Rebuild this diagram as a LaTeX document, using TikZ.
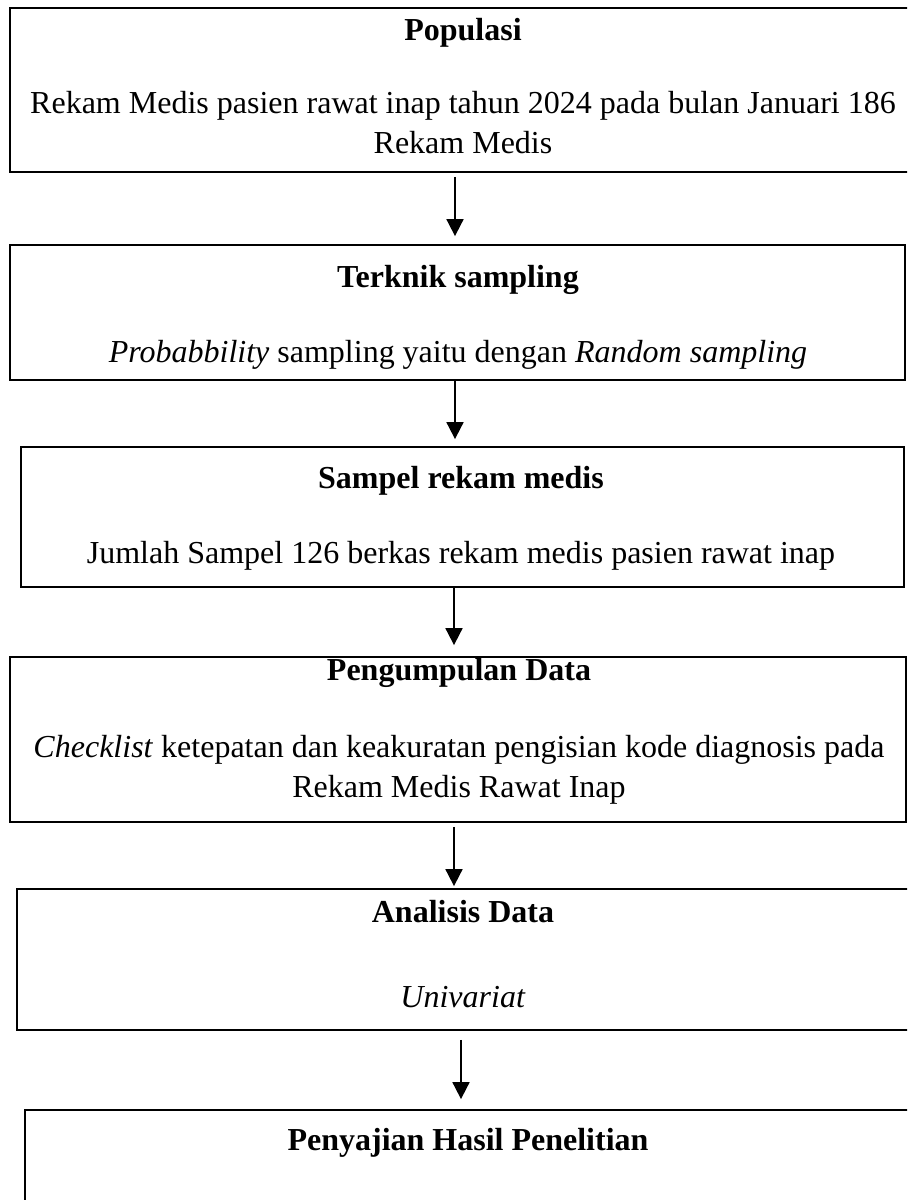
\documentclass[tikz,border=0pt]{standalone}
\usepackage{fontspec}
\setmainfont{Liberation Serif}
\usetikzlibrary{arrows.meta}

\begin{document}
\begin{tikzpicture}[x=0.5pt,y=-0.5pt,
    kotak/.style={draw,line width=0.9pt,rectangle,inner sep=0pt},
    judul/.style={anchor=base,inner sep=0pt,font=\fontsize{16}{20}\selectfont\bfseries},
    isi/.style={anchor=base,inner sep=0pt,align=center,font=\fontsize{16}{20}\selectfont},
    panah/.style={-{Triangle[length=8.5pt,width=8.5pt]},line width=0.9pt}]
  \useasboundingbox (0,0) rectangle (907,1200);
  \clip (0,0) rectangle (907,1200);

  % kotak alur
  \node[kotak,minimum width=453pt,minimum height=82pt] (b1) at (463,90) {};
  \node[kotak,minimum width=447.5pt,minimum height=67.5pt] (b2) at (457.5,312.5) {};
  \node[kotak,minimum width=441.5pt,minimum height=70pt] (b3) at (462.5,517) {};
  \node[kotak,minimum width=448pt,minimum height=82.5pt] (b4) at (458,739.5) {};
  \node[kotak,minimum width=446pt,minimum height=70.5pt] (b5) at (463,959.5) {};
  \node[kotak,minimum width=443pt,minimum height=75pt] (b6) at (468,1185) {};

  % isi kotak
  \node[judul] (t1) at (463,40) {Populasi};
  \node[isi] (i1) at (463,153) {Rekam Medis pasien rawat inap tahun 2024 pada bulan Januari 186\\Rekam Medis};
  \node[judul] (t2) at (458,287) {Terknik sampling};
  \node[isi] (i2) at (458,362) {\textit{Probabbility} sampling yaitu dengan \textit{Random sampling}};
  \node[judul] (t3) at (461,488) {Sampel rekam medis};
  \node[isi] (i3) at (461,563) {Jumlah Sampel 126 berkas rekam medis pasien rawat inap};
  \node[judul] (t4) at (459,680) {Pengumpulan Data};
  \node[isi] (i4) at (459,797) {\textit{Checklist} ketepatan dan keakuratan pengisian kode diagnosis pada\\Rekam Medis Rawat Inap};
  \node[judul] (t5) at (463,922) {Analisis Data};
  \node[isi] (i5) at (463,1007) {\textit{Univariat}};
  \node[judul] (t6) at (468,1150) {Penyajian Hasil Penelitian};

  % panah
  \draw[panah,shorten <=2pt,shorten >=4pt] ([xshift=-4pt]b1.south) -- ([xshift=-4pt]b1.south |- b2.north);
  \draw[panah,shorten >=3.5pt] ([xshift=-1.25pt]b2.south) -- ([xshift=-1.25pt]b2.south |- b3.north);
  \draw[panah,shorten >=5.5pt] ([xshift=-4.25pt]b3.south) -- ([xshift=-4.25pt]b3.south |- b4.north);
  \draw[panah,shorten <=2pt,shorten >=1pt] ([xshift=-2pt]b4.south) -- ([xshift=-2pt]b4.south |- b5.north);
  \draw[panah,shorten <=4.5pt,shorten >=5pt] ([xshift=-1pt]b5.south) -- ([xshift=-1pt]b5.south |- b6.north);
\end{tikzpicture}
\end{document}
